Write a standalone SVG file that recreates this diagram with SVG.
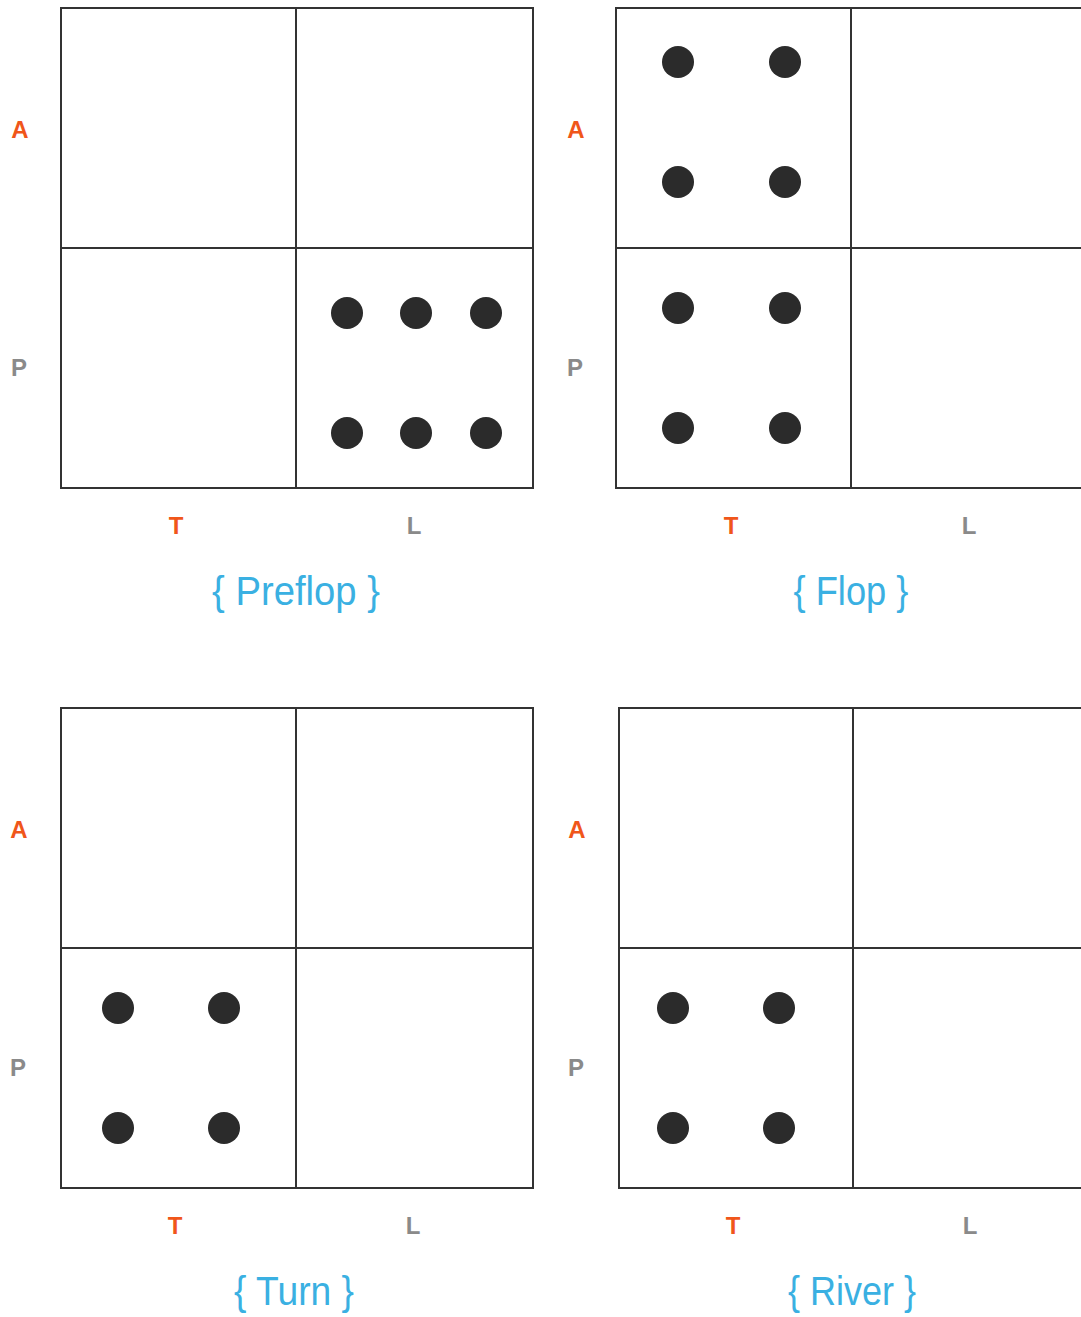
<svg xmlns="http://www.w3.org/2000/svg" width="1081" height="1317" viewBox="0 0 1081 1317">
<style>
.grid{fill:none;stroke:#333;stroke-width:2}
.dot{fill:#2b2b2b}
.ax{font-family:"Liberation Sans",Arial,sans-serif;font-weight:bold;font-size:24px;text-anchor:middle}
.o{fill:#f0561a}
.g{fill:#8a8a8a}
.cap{font-family:"Liberation Sans",Arial,sans-serif;font-size:40px;fill:#3ab0e2;text-anchor:middle}
</style>
<rect width="1081" height="1317" fill="#fff"/>
<g id="preflop">
<rect class="grid" x="61" y="8" width="472" height="480"/>
<line class="grid" x1="296" y1="8" x2="296" y2="488"/>
<line class="grid" x1="61" y1="248" x2="533" y2="248"/>
<circle class="dot" cx="347" cy="313" r="16"/><circle class="dot" cx="416" cy="313" r="16"/><circle class="dot" cx="486" cy="313" r="16"/>
<circle class="dot" cx="347" cy="433" r="16"/><circle class="dot" cx="416" cy="433" r="16"/><circle class="dot" cx="486" cy="433" r="16"/>
<text class="ax o" x="20" y="138">A</text>
<text class="ax g" x="19" y="376">P</text>
<text class="ax o" x="176" y="534">T</text>
<text class="ax g" x="414" y="534">L</text>
<text class="cap" x="296" y="605" textLength="168" lengthAdjust="spacingAndGlyphs">{ Preflop }</text>
</g>
<g id="flop">
<rect class="grid" x="616" y="8" width="472" height="480"/>
<line class="grid" x1="851" y1="8" x2="851" y2="488"/>
<line class="grid" x1="616" y1="248" x2="1088" y2="248"/>
<circle class="dot" cx="678" cy="62" r="16"/><circle class="dot" cx="785" cy="62" r="16"/>
<circle class="dot" cx="678" cy="182" r="16"/><circle class="dot" cx="785" cy="182" r="16"/>
<circle class="dot" cx="678" cy="308" r="16"/><circle class="dot" cx="785" cy="308" r="16"/>
<circle class="dot" cx="678" cy="428" r="16"/><circle class="dot" cx="785" cy="428" r="16"/>
<text class="ax o" x="576" y="138">A</text>
<text class="ax g" x="575" y="376">P</text>
<text class="ax o" x="731" y="534">T</text>
<text class="ax g" x="969" y="534">L</text>
<text class="cap" x="851" y="605" textLength="115" lengthAdjust="spacingAndGlyphs">{ Flop }</text>
</g>
<g id="turn">
<rect class="grid" x="61" y="708" width="472" height="480"/>
<line class="grid" x1="296" y1="708" x2="296" y2="1188"/>
<line class="grid" x1="61" y1="948" x2="533" y2="948"/>
<circle class="dot" cx="118" cy="1008" r="16"/><circle class="dot" cx="224" cy="1008" r="16"/>
<circle class="dot" cx="118" cy="1128" r="16"/><circle class="dot" cx="224" cy="1128" r="16"/>
<text class="ax o" x="19" y="838">A</text>
<text class="ax g" x="18" y="1076">P</text>
<text class="ax o" x="175" y="1234">T</text>
<text class="ax g" x="413" y="1234">L</text>
<text class="cap" x="294" y="1305" textLength="120" lengthAdjust="spacingAndGlyphs">{ Turn }</text>
</g>
<g id="river">
<rect class="grid" x="619" y="708" width="472" height="480"/>
<line class="grid" x1="853" y1="708" x2="853" y2="1188"/>
<line class="grid" x1="619" y1="948" x2="1091" y2="948"/>
<circle class="dot" cx="673" cy="1008" r="16"/><circle class="dot" cx="779" cy="1008" r="16"/>
<circle class="dot" cx="673" cy="1128" r="16"/><circle class="dot" cx="779" cy="1128" r="16"/>
<text class="ax o" x="577" y="838">A</text>
<text class="ax g" x="576" y="1076">P</text>
<text class="ax o" x="733" y="1234">T</text>
<text class="ax g" x="970" y="1234">L</text>
<text class="cap" x="852" y="1305" textLength="128" lengthAdjust="spacingAndGlyphs">{ River }</text>
</g>
<g id="connectors"/>
</svg>
